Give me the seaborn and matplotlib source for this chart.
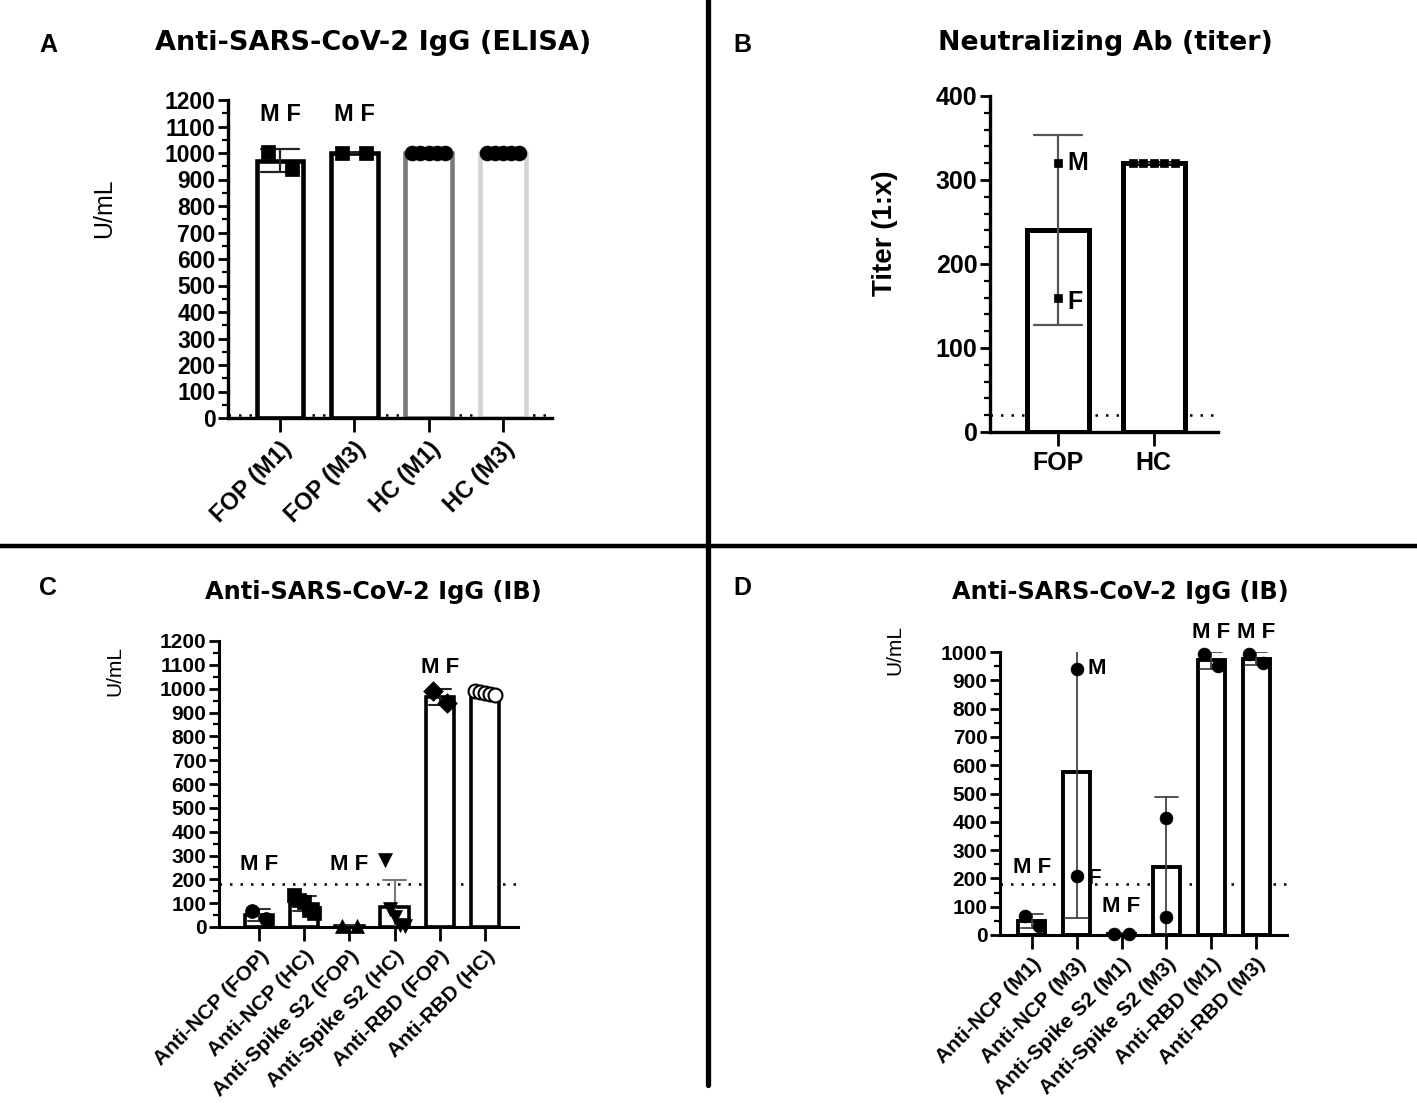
import numpy as np
import pandas as pd
import matplotlib
matplotlib.use("Agg")
import matplotlib.pyplot as plt
import seaborn as sns
from matplotlib.lines import Line2D
from matplotlib.ticker import MultipleLocator

sns.set_theme(style="ticks")
plt.rcParams['font.family'] = ['Liberation Sans', 'DejaVu Sans']
plt.rcParams['font.weight'] = 'bold'
plt.rcParams['text.color'] = 'black'
plt.rcParams['axes.labelcolor'] = 'black'
plt.rcParams['xtick.color'] = 'black'
plt.rcParams['ytick.color'] = 'black'

# ---------------- data ----------------
# Panel A : Anti-SARS-CoV-2 IgG (ELISA)
a_categories = ["FOP (M1)", "FOP (M3)", "HC (M1)", "HC (M3)"]
a_fop_m1 = [1003, 940]
a_fop_m3 = [1000, 1000]
a_hc_m1 = [1000, 1000, 1000, 1000, 1000]
a_hc_m3 = [1000, 1000, 1000, 1000, 1000]
a_cutoff = 12

# Panel B : Neutralizing Ab (titer)
b_categories = ["FOP", "HC"]
b_fop = [320, 160]
b_hc = [320, 320, 320, 320, 320]
b_cutoff = 20

# Panel C : Anti-SARS-CoV-2 IgG (IB)
c_categories = ["Anti-NCP (FOP)", "Anti-NCP (HC)", "Anti-Spike S2 (FOP)",
                "Anti-Spike S2 (HC)", "Anti-RBD (FOP)", "Anti-RBD (HC)"]
c_ncp_fop = [68, 33]
c_ncp_hc = [135, 115, 105, 70, 60]
c_s2_fop = [5, 3]
c_s2_hc = [280, 75, 40, 10, 5]
c_rbd_fop = [990, 940]
c_rbd_hc = [992, 986, 981, 977, 974]
c_cutoff = 180

# Panel D : Anti-SARS-CoV-2 IgG (IB)
d_categories = ["Anti-NCP (M1)", "Anti-NCP (M3)", "Anti-Spike S2 (M1)",
                "Anti-Spike S2 (M3)", "Anti-RBD (M1)", "Anti-RBD (M3)"]
d_ncp_m1 = [68, 32]
d_ncp_m3 = [940, 210]
d_s2_m1 = [5, 2]
d_s2_m3 = [415, 65]
d_rbd_m1 = [992, 950]
d_rbd_m3 = [993, 960]
d_cutoff = 180

# ---------------- layout helpers ----------------
W, H = 1417, 1105
fig = plt.figure(figsize=(W / 100, H / 100), dpi=100)


def rect(l, t, r, b):
    return [l / W, 1 - b / H, (r - l) / W, (b - t) / H]


def fx(x):
    return x / W


def fy(y):
    return 1 - y / H


def long_df(cats, groups):
    rows = [(c, v) for c, g in zip(cats, groups) for v in g]
    return pd.DataFrame(rows, columns=["group", "value"])


PAIR = [-0.16, 0.16]
CENTER = [0.0, 0.0]
FIVE = list(np.linspace(-0.22, 0.22, 5))


def panel(ax, cats, groups, *, width, lw, ylim, xlim, major, minor, cutoff,
          markers, offsets, msize, err_colors, err_lw, tick_fs, rotate,
          open_mask=None, edgecolors=None, axis_lw=2.2):
    df = long_df(cats, groups)
    sns.barplot(data=df, x="group", y="value", order=cats, estimator="mean",
                errorbar="sd", width=width, color="white", edgecolor="black",
                linewidth=lw, saturation=1, capsize=0.5,
                err_kws={"color": "#333333", "linewidth": err_lw}, ax=ax)
    if edgecolors is not None:
        for p, ec in zip(ax.patches, edgecolors):
            p.set_edgecolor(ec)
    # colour each error bar according to the bar it belongs to
    for ln in ax.lines:
        xd = np.asarray(ln.get_xdata(), dtype=float)
        xd = xd[np.isfinite(xd)]
        if xd.size:
            idx = int(round(float(np.mean(xd))))
            if 0 <= idx < len(err_colors):
                ln.set_color(err_colors[idx])
    for i, vals in enumerate(groups):
        xs = i + np.array(offsets[i][:len(vals)])
        is_open = open_mask is not None and open_mask[i]
        ax.scatter(xs, vals, marker=markers[i], s=msize,
                   facecolors="white" if is_open else "black",
                   edgecolors="black", linewidths=1.5 if is_open else 0.5,
                   zorder=4, clip_on=False)
    ax.axhline(cutoff, color="black", lw=1.8, ls=(0, (1, 3.2)), zorder=0.5)
    ax.set_xlim(*xlim)
    ax.set_ylim(*ylim)
    ax.yaxis.set_major_locator(MultipleLocator(major))
    ax.yaxis.set_minor_locator(MultipleLocator(minor))
    sns.despine(ax=ax)
    for s in ("left", "bottom"):
        ax.spines[s].set_linewidth(axis_lw)
        ax.spines[s].set_color("black")
    ax.tick_params(axis="y", which="major", length=7, width=2, color="black",
                   labelsize=tick_fs, labelcolor="black", pad=2)
    ax.tick_params(axis="y", which="minor", length=4, width=1.6, color="black")
    ax.tick_params(axis="x", which="major", length=10, width=2, color="black",
                   labelcolor="black", pad=4)
    ax.set_xlabel("")
    ax.set_ylabel("")
    ax.set_facecolor("none")
    if rotate:
        plt.setp(ax.get_xticklabels(), rotation=45, ha="right",
                 rotation_mode="anchor")


# ---------------- Panel A ----------------
axA = fig.add_axes(rect(228, 100, 552, 418))
panel(axA, a_categories, [a_fop_m1, a_fop_m3, a_hc_m1, a_hc_m3],
      width=0.63, lw=3.3, ylim=(0, 1200), xlim=(-0.70, 3.66), major=100,
      minor=50, cutoff=a_cutoff, markers=["s", "s", "o", "o"],
      offsets=[PAIR, PAIR, FIVE, FIVE], msize=115,
      err_colors=["#222222"] * 4, err_lw=1.6, tick_fs=16.5, rotate=True,
      edgecolors=["black", "black", "#7a7a7a", "#d4d4d4"], axis_lw=2.4)
plt.setp(axA.get_xticklabels(), fontsize=17)
for i in range(2):
    axA.text(i, 1145, "M F", ha="center", va="center", fontsize=17,
             fontweight="bold")

# ---------------- Panel B ----------------
axB = fig.add_axes(rect(990, 96, 1218, 432))
panel(axB, b_categories, [b_fop, b_hc], width=0.65, lw=3.6, ylim=(0, 400),
      xlim=(-0.71, 1.67), major=100, minor=20, cutoff=b_cutoff,
      markers=["s", "s"], offsets=[CENTER, FIVE], msize=40,
      err_colors=["#555555"] * 2, err_lw=1.6, tick_fs=18, rotate=False,
      axis_lw=2.4)
plt.setp(axB.get_xticklabels(), fontsize=18)
axB.text(0.1, b_fop[0], "M", ha="left", va="center", fontsize=18,
         fontweight="bold")
axB.text(0.1, b_fop[1] - 5, "F", ha="left", va="center", fontsize=18,
         fontweight="bold")

# ---------------- Panel C ----------------
axC = fig.add_axes(rect(219, 641, 518, 927))
panel(axC, c_categories,
      [c_ncp_fop, c_ncp_hc, c_s2_fop, c_s2_hc, c_rbd_fop, c_rbd_hc],
      width=0.63, lw=2.6, ylim=(0, 1200), xlim=(-0.885, 5.73), major=100,
      minor=50, cutoff=c_cutoff, markers=["o", "s", "^", "v", "D", "o"],
      offsets=[PAIR, FIVE, PAIR, FIVE, PAIR, FIVE], msize=100,
      err_colors=["#333333", "#333333", "#333333", "#777777", "#222222",
                  "#222222"],
      err_lw=1.5, tick_fs=15, rotate=True,
      open_mask=[False, False, False, False, False, True])
plt.setp(axC.get_xticklabels(), fontsize=15)
for i, y in [(0, 262), (2, 262), (4, 1090)]:
    axC.text(i, y, "M F", ha="center", va="center", fontsize=16,
             fontweight="bold")

# ---------------- Panel D ----------------
axD = fig.add_axes(rect(1000, 652, 1287, 935))
panel(axD, d_categories,
      [d_ncp_m1, d_ncp_m3, d_s2_m1, d_s2_m3, d_rbd_m1, d_rbd_m3],
      width=0.6, lw=2.8, ylim=(0, 1000), xlim=(-0.71, 5.69), major=100,
      minor=50, cutoff=d_cutoff, markers=["o"] * 6,
      offsets=[PAIR, CENTER, PAIR, CENTER, PAIR, PAIR], msize=85,
      err_colors=["#444444"] * 6, err_lw=1.3, tick_fs=15, rotate=True)
plt.setp(axD.get_xticklabels(), fontsize=15)
for i, y in [(0, 237), (2, 100), (4, 1068), (5, 1068)]:
    axD.text(i, y, "M F", ha="center", va="center", fontsize=16,
             fontweight="bold", clip_on=False)
axD.text(1.25, d_ncp_m3[0], "M", ha="left", va="center", fontsize=16,
         fontweight="bold")
axD.text(1.25, d_ncp_m3[1] - 10, "F", ha="left", va="center", fontsize=16,
         fontweight="bold")

# ---------------- titles, labels, letters ----------------
fig.text(fx(373), fy(43), "Anti-SARS-CoV-2 IgG (ELISA)", ha="center",
         va="center", fontsize=19.5, fontweight="bold", family="DejaVu Sans")
fig.text(fx(1105), fy(43), "Neutralizing Ab (titer)", ha="center",
         va="center", fontsize=19.3, fontweight="bold", family="DejaVu Sans")
fig.text(fx(373), fy(592), "Anti-SARS-CoV-2 IgG (IB)", ha="center",
         va="center", fontsize=17.3, fontweight="bold", family="DejaVu Sans")
fig.text(fx(1120), fy(592), "Anti-SARS-CoV-2 IgG (IB)", ha="center",
         va="center", fontsize=17.3, fontweight="bold", family="DejaVu Sans")

fig.text(fx(104), fy(208), "U/mL", rotation=90, ha="center", va="center",
         fontsize=18, fontweight="normal")
fig.text(fx(885), fy(233), "Titer (1:x)", rotation=90, ha="center",
         va="center", fontsize=20, fontweight="bold")
fig.text(fx(115), fy(671), "U/mL", rotation=90, ha="center", va="center",
         fontsize=15, fontweight="normal")
fig.text(fx(895), fy(650), "U/mL", rotation=90, ha="center", va="center",
         fontsize=15, fontweight="normal")

for letter, x, y in [("A", 48, 45), ("B", 742, 45), ("C", 48, 588),
                     ("D", 742, 588)]:
    fig.text(fx(x), fy(y), letter, ha="center", va="center", fontsize=18,
             fontweight="bold")

# separators
fig.add_artist(Line2D([fx(708), fx(708)], [fy(0), fy(1085)],
                      transform=fig.transFigure, color="black", lw=3.8))
fig.add_artist(Line2D([0, 1], [fy(546), fy(546)],
                      transform=fig.transFigure, color="black", lw=3.2))

fig.savefig("out.png", dpi=100, facecolor="white")
